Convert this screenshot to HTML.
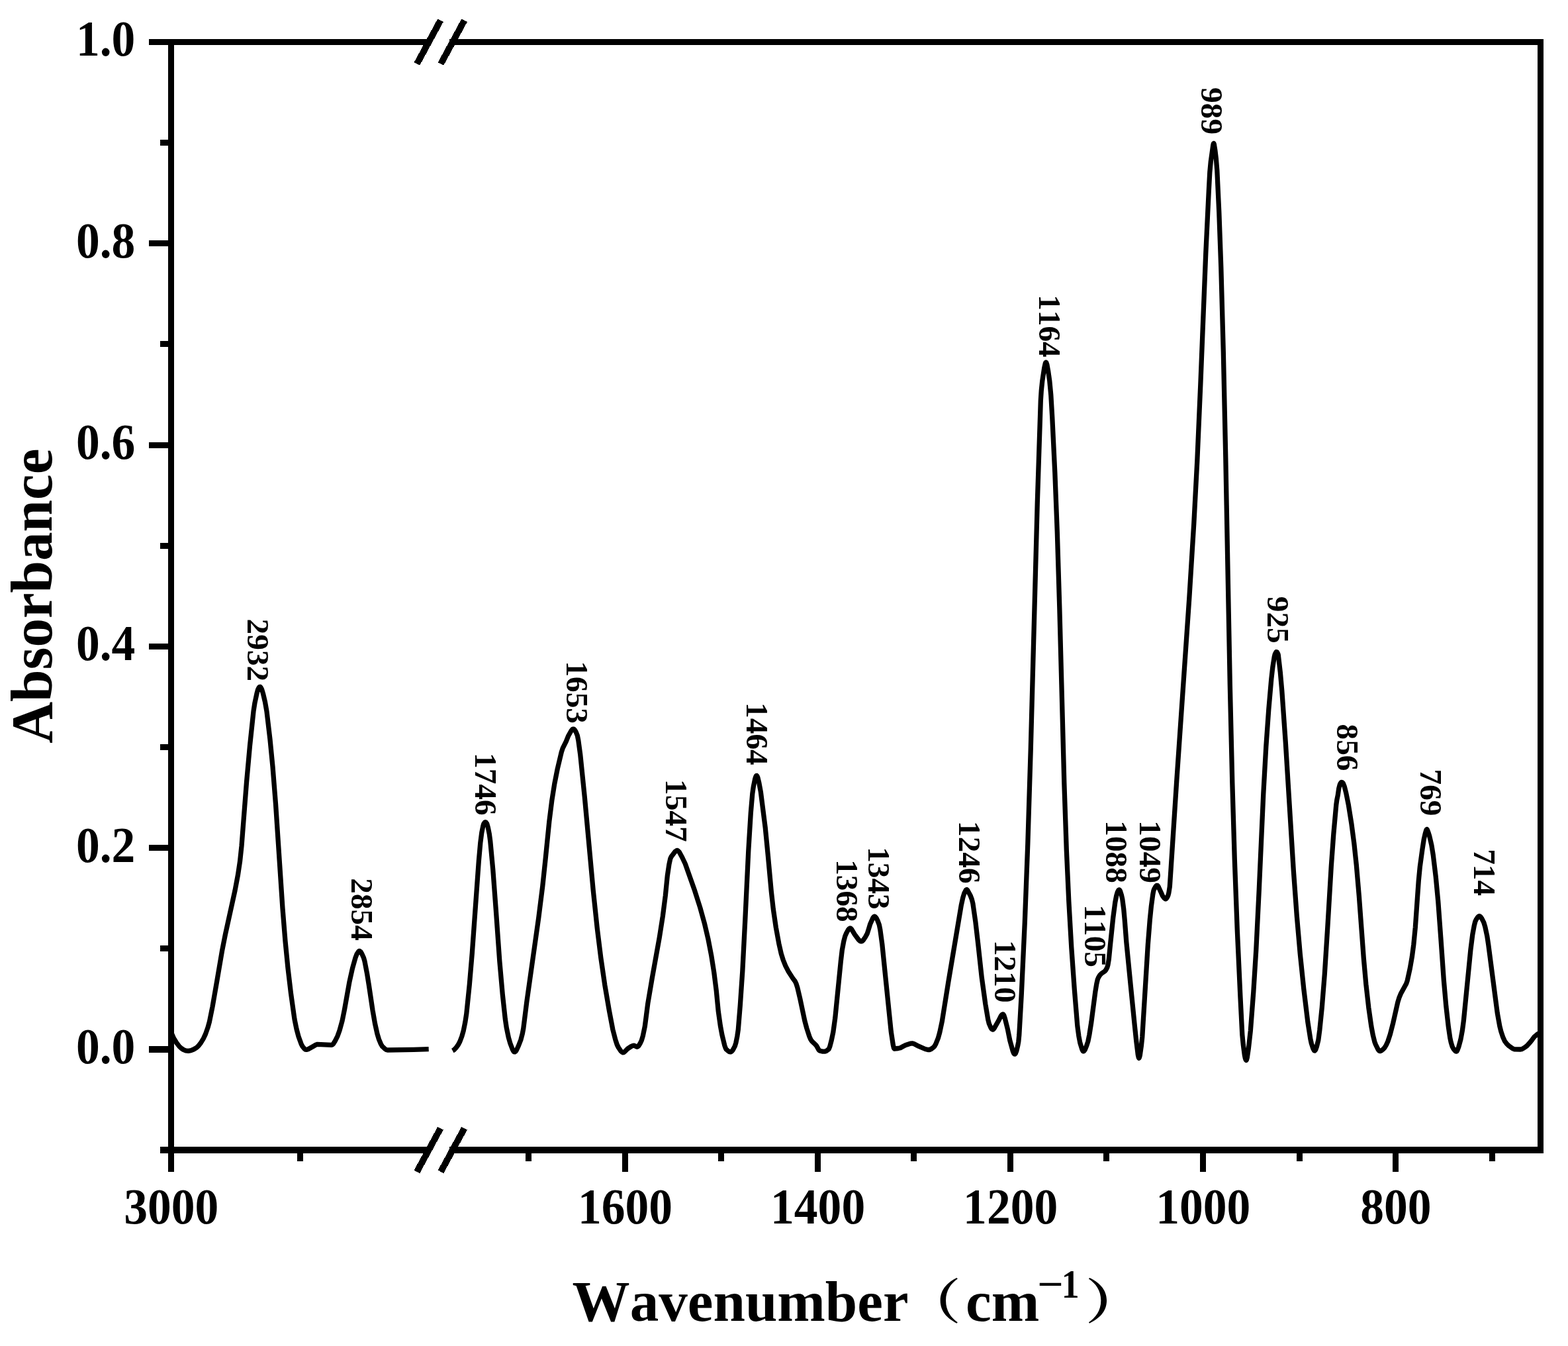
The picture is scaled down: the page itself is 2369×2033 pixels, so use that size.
<!DOCTYPE html>
<html lang="en"><head><meta charset="utf-8"><title>FTIR absorbance spectrum</title>
<style>
html,body{margin:0;padding:0;background:#fff}
body{width:2369px;height:2033px;overflow:hidden}
svg{display:block}
text{white-space:pre}
</style></head>
<body>
<svg width="2369" height="2033" viewBox="0 0 2369 2033">
<rect width="2369" height="2033" fill="#fff"/>
<g fill="#000" shape-rendering="crispEdges">
<rect x="254" y="59" width="9" height="1711"/>
<rect x="2323" y="59" width="9" height="1683"/>
<rect x="254" y="59" width="393.7" height="9"/>
<rect x="679.3" y="59" width="1652.7" height="9"/>
<rect x="254" y="1732" width="393.7" height="10"/>
<rect x="679.3" y="1732" width="1652.7" height="10"/>
<rect x="225" y="59" width="29" height="9"/>
<rect x="242" y="211" width="12" height="9"/>
<rect x="225" y="363" width="29" height="9"/>
<rect x="242" y="515" width="12" height="9"/>
<rect x="225" y="668" width="29" height="9"/>
<rect x="242" y="820" width="12" height="9"/>
<rect x="225" y="972" width="29" height="9"/>
<rect x="242" y="1124" width="12" height="9"/>
<rect x="225" y="1276" width="29" height="9"/>
<rect x="242" y="1428" width="12" height="9"/>
<rect x="225" y="1580" width="29" height="10"/>
<rect x="242" y="1732" width="12" height="10"/>
<rect x="940" y="1742" width="9" height="28"/>
<rect x="1231" y="1742" width="9" height="28"/>
<rect x="1522" y="1742" width="9" height="28"/>
<rect x="1813" y="1742" width="9" height="28"/>
<rect x="2104" y="1742" width="9" height="28"/>
<rect x="794" y="1742" width="9" height="12"/>
<rect x="1085" y="1742" width="9" height="12"/>
<rect x="1376" y="1742" width="9" height="12"/>
<rect x="1667" y="1742" width="9" height="12"/>
<rect x="1959" y="1742" width="9" height="12"/>
<rect x="2250" y="1742" width="9" height="12"/>
<rect x="449" y="1742" width="9" height="12"/>
</g>
<polygon shape-rendering="crispEdges" points="661.2,28.5 669.8,33.1 634.2,98.7 625.6,94.1"/>
<polygon shape-rendering="crispEdges" points="697.3,28.5 705.9,33.1 670.3,98.7 661.7,94.1"/>
<polygon shape-rendering="crispEdges" points="661.2,1701.9 669.8,1706.5 634.2,1772.1 625.6,1767.5"/>
<polygon shape-rendering="crispEdges" points="697.3,1701.9 705.9,1706.5 670.3,1772.1 661.7,1767.5"/>
<g fill="none" stroke="#000" stroke-width="7.3" stroke-linejoin="round" stroke-linecap="butt">
<path d="M258.5,1559.0 L262.5,1568.1 L266.5,1574.7 L271.0,1580.6 L274.0,1583.4 L277.0,1585.4 L280.5,1586.8 L284.5,1587.3 L288.5,1586.6 L292.5,1585.0 L297.0,1582.3 L300.0,1579.5 L303.5,1575.0 L307.5,1568.3 L310.5,1561.9 L314.0,1551.9 L316.5,1542.9 L321.0,1520.6 L328.0,1480.3 L335.5,1436.3 L340.5,1411.0 L355.0,1345.1 L359.5,1321.3 L362.5,1301.3 L365.0,1277.9 L372.5,1181.6 L377.5,1126.4 L383.0,1074.3 L385.0,1061.4 L388.0,1047.4 L389.5,1041.9 L391.0,1038.8 L392.0,1037.6 L392.5,1037.3 L393.0,1037.4 L394.0,1038.4 L395.5,1041.0 L397.5,1047.7 L400.5,1060.3 L403.0,1074.6 L408.0,1117.0 L412.0,1157.8 L416.5,1214.2 L427.0,1372.2 L431.0,1421.6 L435.0,1462.4 L439.5,1500.4 L445.0,1539.6 L448.0,1554.3 L451.0,1565.5 L455.0,1576.6 L457.0,1580.5 L460.0,1584.1 L461.5,1585.2 L463.0,1585.4 L465.5,1584.7 L474.0,1580.0 L477.5,1577.9 L479.5,1577.3 L501.0,1578.3 L502.0,1578.0 L503.5,1576.7 L506.0,1572.8 L510.0,1564.8 L513.0,1556.5 L517.0,1542.1 L520.5,1524.7 L528.0,1482.7 L532.5,1462.5 L537.0,1446.5 L539.0,1441.3 L541.5,1437.4 L542.5,1436.5 L543.5,1436.5 L545.0,1437.7 L547.0,1441.1 L549.5,1446.8 L551.0,1452.1 L554.5,1470.2 L557.5,1488.9 L563.0,1525.8 L566.5,1545.9 L570.0,1561.6 L572.5,1569.9 L575.5,1577.0 L577.5,1580.4 L581.0,1583.7 L583.5,1585.4 L585.5,1586.0 L625.0,1585.4 L647.7,1584.6"/>
<path d="M683.8,1587.0 L685.8,1585.9 L688.8,1582.8 L692.3,1578.0 L694.8,1573.2 L697.8,1565.3 L700.3,1556.4 L702.8,1544.0 L704.8,1531.0 L709.3,1487.1 L713.3,1439.9 L723.3,1301.0 L725.8,1272.9 L727.8,1257.5 L729.8,1247.6 L730.8,1244.4 L732.3,1242.2 L733.3,1241.6 L734.3,1242.2 L735.8,1244.4 L737.3,1249.7 L739.3,1259.8 L740.8,1271.1 L744.8,1314.0 L749.3,1374.3 L754.8,1451.5 L759.3,1502.2 L763.3,1539.1 L765.3,1552.6 L768.3,1567.1 L770.8,1575.7 L774.3,1585.0 L775.8,1587.8 L776.8,1588.7 L777.8,1588.8 L778.8,1588.2 L780.3,1586.2 L783.3,1579.8 L786.8,1570.7 L789.3,1561.2 L790.8,1553.3 L795.8,1513.4 L813.8,1385.9 L819.8,1338.2 L824.3,1295.6 L829.8,1240.9 L833.8,1209.0 L837.8,1183.8 L842.3,1161.0 L848.3,1135.9 L850.3,1129.9 L855.3,1119.9 L858.8,1111.2 L863.3,1103.3 L864.8,1101.6 L865.8,1101.1 L866.8,1101.1 L868.3,1102.4 L870.3,1105.9 L872.3,1110.8 L873.8,1118.3 L876.8,1140.3 L883.3,1203.9 L896.3,1345.5 L902.3,1402.4 L907.8,1446.7 L913.8,1487.8 L920.3,1525.9 L925.8,1554.8 L929.8,1570.4 L932.3,1578.0 L934.3,1582.0 L937.8,1587.3 L939.8,1589.2 L941.3,1589.8 L942.8,1589.4 L944.8,1587.6 L947.8,1584.4 L953.8,1580.4 L956.3,1579.4 L958.3,1579.2 L960.3,1580.2 L962.3,1581.2 L963.3,1581.1 L964.8,1579.8 L967.3,1575.8 L969.3,1571.5 L971.3,1564.7 L974.3,1550.3 L976.3,1535.0 L978.8,1515.5 L985.3,1477.1 L996.3,1415.8 L1001.3,1384.0 L1005.3,1352.9 L1008.3,1322.9 L1010.8,1306.1 L1012.8,1296.8 L1014.3,1293.7 L1019.8,1286.5 L1022.3,1284.6 L1023.3,1284.5 L1024.8,1285.4 L1026.3,1287.0 L1030.8,1295.3 L1035.3,1304.8 L1049.8,1345.8 L1057.8,1371.0 L1064.3,1394.4 L1069.8,1417.8 L1074.8,1443.6 L1078.8,1469.0 L1082.3,1496.8 L1085.3,1527.8 L1088.3,1549.0 L1090.8,1562.6 L1094.8,1579.1 L1096.3,1583.4 L1097.3,1585.0 L1100.3,1587.6 L1102.3,1588.7 L1103.8,1588.9 L1105.3,1588.2 L1107.3,1585.8 L1110.3,1580.1 L1111.8,1575.2 L1113.8,1565.4 L1115.3,1555.2 L1118.3,1518.5 L1121.8,1466.9 L1125.8,1389.2 L1130.8,1284.6 L1134.3,1227.8 L1136.8,1198.7 L1138.3,1188.2 L1140.8,1176.1 L1141.8,1173.1 L1142.3,1172.1 L1142.8,1171.6 L1143.3,1171.5 L1143.8,1172.0 L1144.8,1174.2 L1146.8,1182.4 L1149.3,1195.8 L1156.3,1250.8 L1160.3,1291.8 L1165.3,1346.5 L1168.3,1373.1 L1172.3,1400.6 L1176.8,1425.2 L1180.3,1440.6 L1183.3,1450.2 L1186.8,1458.8 L1190.8,1466.7 L1197.8,1477.6 L1201.3,1482.3 L1202.8,1485.3 L1204.8,1491.7 L1208.8,1508.7 L1215.8,1541.7 L1218.8,1553.0 L1222.8,1565.4 L1224.8,1570.0 L1226.8,1572.9 L1230.3,1576.2 L1233.3,1579.1 L1235.3,1582.6 L1237.3,1586.2 L1238.3,1587.0 L1242.3,1588.1 L1245.8,1588.2 L1248.3,1587.4 L1251.3,1585.3 L1252.3,1584.3 L1253.8,1580.7 L1256.3,1571.0 L1258.8,1558.9 L1261.8,1537.3 L1270.3,1452.1 L1272.3,1435.0 L1274.8,1421.5 L1276.8,1413.9 L1278.8,1409.2 L1281.3,1404.7 L1282.8,1402.9 L1284.3,1402.0 L1285.3,1402.2 L1286.8,1403.8 L1291.3,1411.3 L1297.3,1419.5 L1299.3,1421.3 L1300.8,1421.9 L1302.3,1421.6 L1304.3,1419.9 L1307.3,1415.5 L1310.3,1410.0 L1312.8,1402.0 L1314.8,1395.4 L1318.8,1386.5 L1320.3,1384.6 L1321.3,1384.2 L1322.3,1384.6 L1323.8,1386.3 L1325.8,1390.1 L1328.3,1396.8 L1329.8,1404.3 L1332.8,1426.2 L1340.8,1504.7 L1346.3,1558.4 L1349.3,1578.1 L1350.3,1582.5 L1350.8,1583.7 L1351.3,1584.0 L1356.8,1583.5 L1360.3,1582.7 L1364.8,1580.2 L1368.3,1578.4 L1375.3,1576.2 L1378.3,1575.9 L1380.8,1576.5 L1387.8,1580.2 L1397.8,1584.5 L1401.8,1585.5 L1404.3,1585.5 L1406.8,1584.5 L1410.3,1581.8 L1411.8,1580.3 L1413.8,1576.9 L1417.3,1568.2 L1419.8,1559.2 L1423.3,1542.8 L1432.8,1483.4 L1452.3,1367.1 L1454.8,1355.8 L1456.8,1349.2 L1459.3,1344.4 L1460.3,1343.6 L1460.8,1343.7 L1461.8,1344.8 L1466.3,1353.1 L1468.3,1358.4 L1469.8,1364.3 L1473.8,1391.9 L1477.8,1426.4 L1483.3,1476.8 L1488.8,1516.5 L1492.8,1540.1 L1494.3,1546.1 L1496.8,1551.9 L1498.3,1554.2 L1499.3,1555.0 L1500.3,1555.0 L1501.8,1553.6 L1508.3,1542.3 L1512.3,1534.5 L1513.8,1532.6 L1514.8,1532.0 L1515.3,1531.9 L1515.8,1532.1 L1516.8,1533.7 L1518.3,1538.1 L1522.3,1554.1 L1525.8,1571.5 L1530.3,1587.8 L1531.8,1591.2 L1532.8,1592.2 L1533.3,1592.1 L1534.3,1591.1 L1535.8,1587.3 L1537.8,1578.8 L1538.8,1573.4 L1539.8,1563.1 L1543.3,1501.3 L1548.3,1393.1 L1552.8,1274.7 L1557.3,1129.7 L1567.3,758.6 L1572.3,605.1 L1573.3,589.6 L1574.8,575.2 L1577.8,555.4 L1579.3,548.8 L1579.8,547.7 L1580.3,547.3 L1580.8,547.7 L1581.8,550.5 L1583.8,561.5 L1585.8,575.6 L1587.8,596.9 L1589.8,631.1 L1593.8,713.7 L1597.3,803.5 L1600.8,917.6 L1607.8,1181.8 L1611.3,1284.0 L1614.8,1361.3 L1618.8,1431.2 L1623.3,1494.6 L1627.8,1549.5 L1629.8,1564.6 L1631.8,1575.1 L1634.8,1584.9 L1635.8,1587.0 L1636.3,1587.6 L1636.8,1587.9 L1637.8,1587.5 L1639.3,1585.4 L1641.8,1579.2 L1643.8,1573.0 L1645.8,1563.1 L1648.8,1544.1 L1654.8,1498.2 L1656.8,1486.0 L1658.3,1479.4 L1659.8,1475.9 L1661.8,1472.8 L1664.3,1470.2 L1668.8,1467.3 L1670.8,1465.0 L1672.8,1461.2 L1673.8,1457.8 L1675.3,1448.8 L1677.3,1428.7 L1681.8,1385.4 L1684.8,1362.8 L1686.8,1352.5 L1688.3,1347.5 L1689.8,1344.7 L1690.8,1343.9 L1691.3,1344.0 L1692.3,1345.5 L1694.3,1351.6 L1695.8,1358.3 L1697.8,1373.8 L1699.3,1390.5 L1701.8,1422.9 L1708.3,1489.1 L1714.3,1549.0 L1716.8,1572.9 L1719.3,1593.1 L1720.3,1597.5 L1720.8,1598.1 L1721.3,1597.6 L1722.3,1594.1 L1724.3,1580.1 L1725.8,1565.8 L1734.3,1427.1 L1737.3,1389.1 L1739.3,1369.3 L1741.8,1350.8 L1742.8,1345.6 L1743.8,1342.8 L1745.8,1339.2 L1747.3,1337.6 L1748.3,1337.3 L1748.8,1337.5 L1749.8,1338.6 L1754.3,1348.2 L1756.3,1352.9 L1758.8,1356.3 L1760.3,1357.6 L1761.3,1357.8 L1762.3,1357.0 L1763.8,1354.7 L1764.8,1352.5 L1765.8,1348.8 L1767.3,1339.2 L1769.3,1309.2 L1777.8,1178.8 L1796.8,903.2 L1803.8,790.2 L1808.8,695.9 L1813.8,580.9 L1821.8,381.7 L1826.3,288.2 L1827.8,260.1 L1829.3,243.9 L1832.8,219.1 L1833.3,217.1 L1833.8,216.6 L1834.3,217.7 L1835.8,226.8 L1837.3,239.1 L1838.8,257.3 L1841.8,321.0 L1844.8,404.5 L1848.3,531.5 L1851.8,691.9 L1858.3,1034.2 L1861.8,1181.9 L1865.3,1298.4 L1869.3,1405.0 L1873.8,1503.0 L1876.8,1562.6 L1878.3,1578.0 L1880.3,1593.2 L1881.3,1598.3 L1882.3,1601.0 L1882.8,1601.4 L1883.3,1600.9 L1884.3,1597.5 L1886.3,1583.8 L1889.3,1557.1 L1893.8,1498.3 L1897.8,1434.5 L1902.3,1343.3 L1908.8,1198.7 L1912.8,1127.8 L1916.8,1071.4 L1920.8,1025.6 L1922.8,1007.9 L1925.3,991.9 L1926.3,988.0 L1927.8,985.2 L1928.3,984.7 L1928.8,984.6 L1929.3,984.9 L1930.8,987.5 L1931.3,989.5 L1934.3,1015.3 L1936.8,1043.6 L1942.3,1121.5 L1954.3,1315.1 L1959.3,1383.6 L1964.3,1441.0 L1969.8,1493.9 L1975.8,1543.4 L1979.8,1569.0 L1981.3,1575.9 L1983.8,1583.5 L1985.3,1586.4 L1985.8,1586.9 L1986.3,1587.0 L1986.8,1586.7 L1987.8,1585.2 L1989.3,1581.0 L1991.8,1571.0 L1993.8,1555.9 L1997.3,1521.5 L2001.3,1471.5 L2005.8,1400.5 L2011.3,1308.1 L2014.8,1260.1 L2018.8,1215.5 L2019.8,1208.2 L2021.3,1201.1 L2022.8,1190.6 L2024.3,1184.9 L2025.3,1183.0 L2026.3,1181.7 L2026.8,1181.4 L2027.8,1181.7 L2029.3,1183.2 L2031.3,1188.1 L2033.8,1198.1 L2037.3,1215.5 L2041.8,1243.6 L2045.8,1273.7 L2049.3,1306.5 L2053.3,1353.0 L2060.3,1447.4 L2063.8,1486.4 L2067.8,1521.9 L2071.8,1550.0 L2074.3,1563.4 L2076.8,1573.4 L2078.3,1577.5 L2081.8,1584.7 L2083.3,1586.7 L2084.3,1587.4 L2085.3,1587.6 L2086.8,1587.1 L2089.3,1585.2 L2091.8,1582.7 L2094.3,1578.5 L2096.8,1573.0 L2100.3,1562.3 L2104.8,1544.8 L2111.8,1513.8 L2113.8,1507.2 L2116.3,1501.1 L2124.8,1485.4 L2126.3,1480.8 L2130.3,1462.6 L2133.3,1445.4 L2135.8,1426.7 L2138.3,1401.0 L2143.3,1330.1 L2145.3,1309.3 L2148.8,1283.7 L2151.3,1267.5 L2153.3,1258.8 L2154.8,1253.9 L2155.3,1252.9 L2155.8,1252.6 L2156.3,1253.1 L2157.8,1256.8 L2159.8,1263.2 L2162.8,1276.2 L2165.3,1291.6 L2169.3,1324.8 L2172.8,1361.9 L2176.8,1416.2 L2181.3,1480.2 L2184.8,1519.7 L2188.3,1550.6 L2190.8,1567.7 L2192.3,1574.7 L2194.3,1581.1 L2195.8,1583.9 L2198.3,1587.1 L2199.8,1588.0 L2200.3,1588.1 L2200.8,1587.9 L2201.8,1586.6 L2203.8,1581.2 L2206.8,1570.3 L2209.3,1556.9 L2211.3,1542.1 L2221.8,1435.3 L2224.8,1411.5 L2227.3,1397.9 L2228.8,1392.0 L2230.3,1388.7 L2232.8,1385.0 L2234.3,1383.8 L2235.3,1383.7 L2236.8,1384.6 L2238.8,1387.4 L2241.8,1393.4 L2243.8,1400.0 L2246.8,1414.0 L2248.8,1427.3 L2262.3,1530.4 L2265.8,1549.9 L2267.8,1557.8 L2270.8,1566.8 L2273.3,1572.3 L2276.3,1576.4 L2279.8,1579.8 L2285.8,1583.9 L2288.3,1584.9 L2297.3,1585.0 L2299.3,1584.6 L2302.8,1582.6 L2306.8,1579.7 L2311.8,1574.3 L2314.8,1570.4 L2317.8,1566.3 L2322.3,1562.5 L2325.8,1560.4 L2327.0,1560.0"/>
</g>
<g style="font-family:'Liberation Serif','Times New Roman',serif;font-weight:bold;font-kerning:none" fill="#000">
<text transform="translate(204.4,84.4) scale(1,1.055)" font-size="71.6" text-anchor="end">1.0</text>
<text transform="translate(204.4,388.7) scale(1,1.055)" font-size="71.6" text-anchor="end">0.8</text>
<text transform="translate(204.4,693.0) scale(1,1.055)" font-size="71.6" text-anchor="end">0.6</text>
<text transform="translate(204.4,997.2) scale(1,1.055)" font-size="71.6" text-anchor="end">0.4</text>
<text transform="translate(204.4,1301.5) scale(1,1.055)" font-size="71.6" text-anchor="end">0.2</text>
<text transform="translate(204.4,1605.8) scale(1,1.055)" font-size="71.6" text-anchor="end">0.0</text>
<text transform="translate(258.8,1848.0) scale(1,1.055)" font-size="71.6" text-anchor="middle">3000</text>
<text transform="translate(944.5,1848.0) scale(1,1.055)" font-size="71.6" text-anchor="middle">1600</text>
<text transform="translate(1235.6,1848.0) scale(1,1.055)" font-size="71.6" text-anchor="middle">1400</text>
<text transform="translate(1526.7,1848.0) scale(1,1.055)" font-size="71.6" text-anchor="middle">1200</text>
<text transform="translate(1817.8,1848.0) scale(1,1.055)" font-size="71.6" text-anchor="middle">1000</text>
<text transform="translate(2108.9,1848.0) scale(1,1.055)" font-size="71.6" text-anchor="middle">800</text>
<text x="864.6" y="1994.9" font-size="87.1">Wavenumber</text>
<text id="lp" transform="translate(1364.4,1991.5) scale(1,0.83)" font-size="87.5" style="font-family:'Liberation Serif','Noto Serif CJK SC','Noto Sans CJK SC',serif;font-weight:bold">（</text>
<text x="1459.1" y="1994.9" font-size="87.1">cm</text>
<text transform="translate(1567.2,1960.4) scale(1.14,1)" font-size="61.2">−</text>
<text transform="translate(1603.8,1960.4) scale(0.88,1)" font-size="61.2">1</text>
<text id="rp" transform="translate(1639.5,1991.5) scale(1.04,0.83)" font-size="87.5" style="font-family:'Liberation Serif','Noto Serif CJK SC','Noto Sans CJK SC',serif;font-weight:bold">）</text>
<text transform="translate(78.0,1122.8) rotate(-90) scale(1,1.03)" font-size="87.1">Absorbance</text>
<text transform="translate(373.7,934.6) rotate(90) scale(1,0.974)" font-size="47.3">2932</text>
<text transform="translate(530.9,1326.3) rotate(90) scale(1,0.974)" font-size="47.3">2854</text>
<text transform="translate(718.0,1137.0) rotate(90) scale(1,0.974)" font-size="47.3">1746</text>
<text transform="translate(855.6,998.4) rotate(90) scale(1,0.974)" font-size="47.3">1653</text>
<text transform="translate(1006.0,1177.0) rotate(90) scale(1,0.974)" font-size="47.3">1547</text>
<text transform="translate(1128.0,1061.1) rotate(90) scale(1,0.974)" font-size="47.3">1464</text>
<text transform="translate(1264.0,1298.2) rotate(90) scale(1,0.974)" font-size="47.3">1368</text>
<text transform="translate(1312.0,1279.2) rotate(90) scale(1,0.974)" font-size="47.3">1343</text>
<text transform="translate(1448.8,1240.0) rotate(90) scale(1,0.974)" font-size="47.3">1246</text>
<text transform="translate(1503.1,1420.0) rotate(90) scale(1,0.974)" font-size="47.3">1210</text>
<text transform="translate(1570.1,445.2) rotate(90) scale(1,0.974)" font-size="47.3">1164</text>
<text transform="translate(1639.3,1366.4) rotate(90) scale(1,0.974)" font-size="47.3">1105</text>
<text transform="translate(1671.0,1239.3) rotate(90) scale(1,0.974)" font-size="47.3">1088</text>
<text transform="translate(1722.2,1239.3) rotate(90) scale(1,0.974)" font-size="47.3">1049</text>
<text transform="translate(1814.7,132.1) rotate(90) scale(1,0.974)" font-size="47.3">989</text>
<text transform="translate(1914.7,900.8) rotate(90) scale(1,0.974)" font-size="47.3">925</text>
<text transform="translate(2019.6,1093.5) rotate(90) scale(1,0.974)" font-size="47.3">856</text>
<text transform="translate(2146.0,1161.5) rotate(90) scale(1,0.974)" font-size="47.3">769</text>
<text transform="translate(2227.1,1282.2) rotate(90) scale(1,0.974)" font-size="47.3">714</text>
</g>
</svg>
</body></html>
